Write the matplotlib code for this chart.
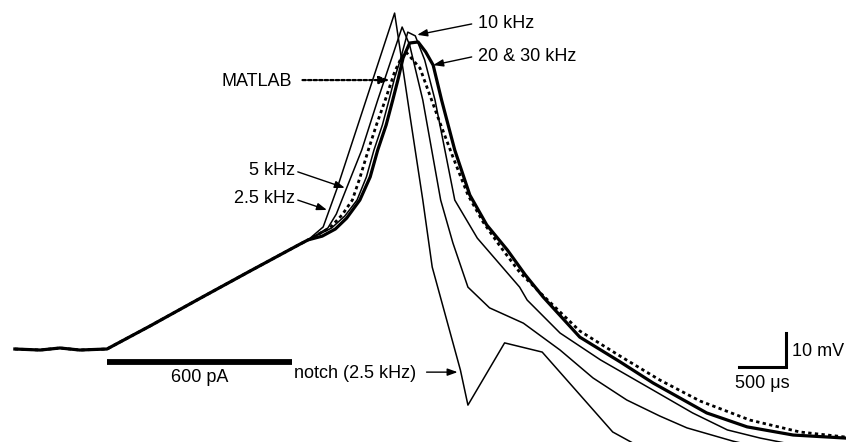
import numpy as np
import matplotlib.pyplot as plt

plt.rcParams['font.family'] = ['Liberation Sans', 'DejaVu Sans']

# Common part of all traces: baseline + ramp during current step (ms, mV)
t_base = [-0.98, -0.71, -0.50, -0.29, 0.00, 0.46, 0.99, 1.52, 2.05, 2.14]
v_base = [0.0, -0.3, 0.3, -0.3, 0.0, 6.8, 14.9, 22.9, 30.8, 32.1]

# 2.5 kHz trace (with notch on the falling phase)
t_25 = [2.30, 2.45, 3.06, 3.23, 3.36, 3.46, 3.76, 3.84, 4.23, 4.63, 5.38, 5.67]
v_25 = [35.9, 47.4, 98.8, 67.4, 43.8, 24.1, -6.2, -16.5, 1.8, -0.9, -24.4, -28.8]

# 5 kHz
t_5 = [2.35, 2.44, 2.52, 2.71, 2.88, 3.14, 3.22, 3.36, 3.55, 3.68, 3.84, 4.07,
       4.43, 4.82, 5.17, 5.53, 5.88, 6.17, 6.66, 7.16]
v_5 = [35.6, 39.7, 45.3, 58.5, 73.2, 94.7, 89.4, 73.2, 43.8, 31.2, 18.2, 12.1,
       7.6, -0.3, -8.5, -15.0, -19.7, -23.2, -27.1, -30.3]

# 10 kHz
t_10 = [2.39, 2.53, 2.66, 2.76, 2.84, 2.93, 3.00, 3.06, 3.12, 3.20, 3.28, 3.38,
        3.49, 3.70, 3.94, 4.39, 4.47, 4.82, 5.25, 5.81, 6.23, 6.60, 6.95, 7.37]
v_10 = [35.6, 39.1, 43.8, 50.6, 58.5, 65.9, 73.2, 79.7, 85.0, 93.2, 92.1, 85.0,
        73.2, 43.8, 32.6, 18.2, 14.4, 4.7, -3.2, -12.1, -18.8, -23.8, -26.2, -28.5]

# 20 & 30 kHz (overlapping)
t_20 = [2.29, 2.43, 2.55, 2.69, 2.80, 2.88, 2.97, 3.04, 3.10, 3.15, 3.22, 3.31,
        3.39, 3.47, 3.56, 3.70, 3.86, 4.04, 4.26, 4.45, 4.64, 5.03, 5.46, 5.81,
        6.38, 6.81, 7.30, 7.86]
v_20 = [33.2, 35.3, 38.5, 43.8, 50.6, 58.5, 65.9, 73.2, 79.7, 85.6, 90.0, 90.3,
        87.4, 83.5, 73.2, 58.5, 45.3, 36.5, 29.1, 21.8, 15.3, 3.5, -3.8, -10.0,
        -18.8, -22.9, -25.3, -26.2]

# MATLAB simulation
t_mat = [2.37, 2.50, 2.61, 2.69, 2.78, 2.87, 2.96, 3.06, 3.12, 3.18, 3.33, 3.52,
         3.68, 3.84, 4.00, 4.18, 4.39, 4.61, 5.03, 5.46, 5.88, 6.31, 6.84, 7.37,
         7.86]
v_mat = [35.6, 39.4, 43.8, 50.3, 58.5, 66.2, 73.2, 81.5, 85.0, 87.4, 82.6, 68.2,
         56.5, 45.3, 37.4, 30.3, 22.6, 16.5, 5.3, -2.1, -9.1, -15.3, -20.9, -24.4,
         -25.9]

# current step and scale bars
stim_on, stim_off, stim_level = 0.0, 1.97, -3.8
bar_t, bar_v = 0.5, 10.0

fig = plt.figure(figsize=(8.46, 4.42), dpi=100)
ax = fig.add_axes([0, 0, 1, 1])

def full(t, v):
    return np.concatenate([t_base, t]), np.concatenate([v_base, v])

for t, v in [(t_25, v_25), (t_5, v_5), (t_10, v_10)]:
    tt, vv = full(t, v)
    ax.plot(tt, vv, color='black', lw=1.1)

tt, vv = full(t_20, v_20)
ax.plot(tt, vv, color='black', lw=2.3, solid_joinstyle='round')
tt, vv = full(t_mat, v_mat)
ax.plot(tt, vv, color='black', lw=2.0, linestyle=(0, (1.2, 1.2)))

# current step bar
ax.plot([stim_on, stim_off], [stim_level, stim_level], color='black', lw=4.2,
        solid_capstyle='butt')
ax.text((stim_on + stim_off) / 2, -8.5, '600 pA', ha='center', va='center', fontsize=13)

# scale bar
sx, sy = 6.72, -5.3
ax.plot([sx, sx + bar_t, sx + bar_t], [sy, sy, sy + bar_v], color='black', lw=2.2,
        solid_joinstyle='miter')
ax.text(7.29, -0.8, '10 mV', ha='left', va='center', fontsize=13)
ax.text(6.68, -10.0, '500 μs', ha='left', va='center', fontsize=13)

arrow = dict(arrowstyle='-|>,head_length=0.5,head_width=0.18', color='black',
             lw=1.0, mutation_scale=12, shrinkA=0, shrinkB=0)

ax.annotate('', xy=(3.30, 92.4), xytext=(3.88, 95.6), arrowprops=arrow)
ax.text(3.95, 95.6, '10 kHz', ha='left', va='center', fontsize=13)

ax.annotate('', xy=(3.47, 83.5), xytext=(3.88, 85.9), arrowprops=arrow)
ax.text(3.95, 85.9, '20 & 30 kHz', ha='left', va='center', fontsize=13)

dash_arrow = dict(arrow, linestyle=(0, (1.5, 1.0)), lw=1.6)
ax.annotate('', xy=(3.01, 79.1), xytext=(2.08, 79.1), arrowprops=dash_arrow)
ax.text(1.22, 78.8, 'MATLAB', ha='left', va='center', fontsize=13)

ax.annotate('', xy=(2.53, 47.4), xytext=(2.03, 52.1), arrowprops=arrow)
ax.text(2.00, 52.6, '5 kHz', ha='right', va='center', fontsize=13)

ax.annotate('', xy=(2.34, 40.9), xytext=(2.03, 43.8), arrowprops=arrow)
ax.text(2.00, 44.4, '2.5 kHz', ha='right', va='center', fontsize=13)

ax.annotate('', xy=(3.73, -6.8), xytext=(3.40, -6.8), arrowprops=arrow)
ax.text(1.99, -7.1, 'notch (2.5 kHz)', ha='left', va='center', fontsize=13)

ax.set_xlim(-1.138, 7.862)
ax.set_ylim(-27.35, 102.65)
ax.axis('off')

plt.savefig('out.png', dpi=100)
